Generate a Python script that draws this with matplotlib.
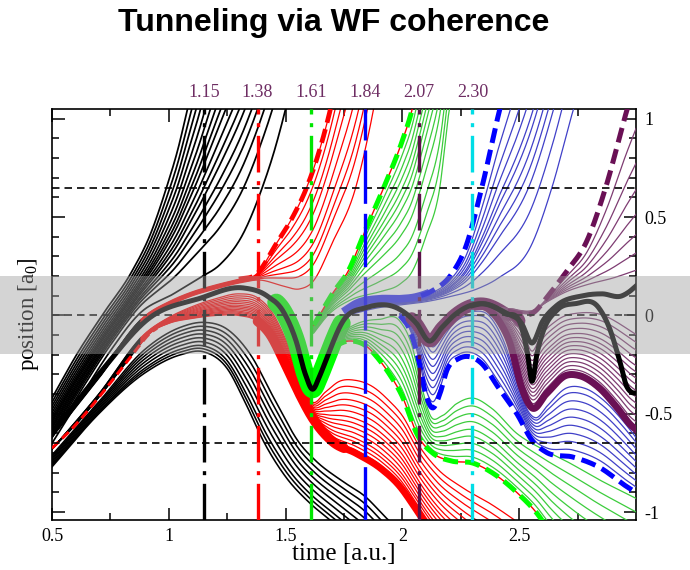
import numpy as np
import matplotlib
matplotlib.use("Agg")
import matplotlib.pyplot as plt
from matplotlib.patches import Rectangle

plt.rcParams['axes.unicode_minus'] = False
plt.rcParams['mathtext.fontset'] = 'custom'
plt.rcParams['mathtext.rm'] = 'Liberation Serif'
plt.rcParams['mathtext.it'] = 'Liberation Serif:italic'

# snapshot times marked by vertical lines
snap_times = [1.15, 1.38, 1.61, 1.84, 2.07, 2.30]
snap_colors = ['black', '#ff0000', '#00e600', '#0000ff', '#5a1048', '#00dde6']
snap_styles = ['dashdot', 'dashdot', 'dashdot', 'dashed', 'dashdot', 'dashdot']
barrier_lines = [0.65, 0.0, -0.65]

# thick central trajectories (time, position)
core_a = [(0.5, -0.60), (0.7, -0.30), (0.92, -0.01), (1.13, 0.086), (1.32, 0.14), (1.42, 0.10),
          (1.49, 0.02), (1.545, -0.13), (1.585, -0.30), (1.615, -0.375), (1.645, -0.31),
          (1.675, -0.22), (1.745, -0.03), (1.845, 0.04), (1.99, 0.03), (2.06, -0.04),
          (2.115, -0.13), (2.17, -0.06), (2.22, 0.0), (2.34, 0.06), (2.44, 0.01), (2.51, -0.06),
          (2.535, -0.19), (2.555, -0.335), (2.575, -0.2), (2.60, -0.09), (2.66, 0.025),
          (2.74, 0.06), (2.84, 0.04), (2.885, -0.06), (2.93, -0.23), (2.96, -0.36),
          (2.98, -0.39), (3.0, -0.395)]
core_b = [(2.30, 0.05), (2.34, 0.06), (2.44, 0.015), (2.51, -0.04), (2.555, -0.14), (2.60, -0.03),
          (2.66, 0.05), (2.77, 0.10), (2.855, 0.11), (2.94, 0.10), (2.97, 0.12), (3.0, 0.15)]

# black group: escaping edges, lower edges
black_out_first = [(0.5, -0.42), (0.61, -0.19), (0.72, 0.01), (0.84, 0.22), (0.92, 0.41), (0.99, 0.65),
                   (1.04, 0.85), (1.08, 1.05), (1.12, 1.25), (1.2, 1.7), (1.6, 3.4)]
black_out_last = [(0.5, -0.65), (0.62, -0.42), (0.75, -0.18), (0.875, 0.01), (1.02, 0.11), (1.13, 0.19),
                  (1.22, 0.26), (1.32, 0.42), (1.40, 0.65), (1.45, 0.83), (1.50, 1.05), (1.54, 1.25),
                  (1.6, 1.6)]
black_out_times = [0.99, 1.005, 1.02, 1.035, 1.05, 1.065, 1.08, 1.095, 1.11, 1.13, 1.15, 1.17,
                   1.20, 1.23, 1.27, 1.32, 1.40]
black_low_top = [(0.5, -0.71), (0.7, -0.44), (0.9, -0.17), (1.05, -0.06), (1.15, -0.035), (1.25, -0.07),
                 (1.35, -0.2), (1.45, -0.42), (1.56, -0.65), (1.63, -0.74), (1.74, -0.84),
                 (1.84, -0.92), (1.94, -1.04), (2.0, -1.1)]
black_low_bot = [(0.5, -0.77), (0.7, -0.50), (0.9, -0.29), (1.05, -0.2), (1.15, -0.185), (1.25, -0.27),
                 (1.33, -0.45), (1.41, -0.65), (1.5, -0.82), (1.6, -0.95), (1.69, -1.04),
                 (1.75, -1.1), (2.0, -1.4)]
black_low_vals = [-0.035, -0.055, -0.075, -0.095, -0.115, -0.135, -0.155, -0.17, -0.185]  # at t=1.15

# red group
red_out_first = [(0.5, -0.60), (0.7, -0.30), (0.9, 0.0), (1.0, 0.07), (1.1, 0.12), (1.2, 0.155),
                 (1.3, 0.185), (1.375, 0.21), (1.46, 0.365), (1.53, 0.5), (1.59, 0.65),
                 (1.645, 0.84), (1.69, 1.04), (1.72, 1.2), (1.9, 2.2)]
red_out_last = [(0.5, -0.62), (0.7, -0.32), (0.9, -0.01), (1.0, 0.05), (1.1, 0.1), (1.2, 0.135),
                (1.3, 0.165), (1.39, 0.18), (1.49, 0.15), (1.56, 0.135), (1.615, 0.17), (1.70, 0.37),
                (1.80, 0.65), (1.875, 1.04), (1.9, 1.2)]
red_out_times = [1.615, 1.64, 1.66, 1.685, 1.71, 1.735, 1.76]
red_low_top = [(0.5, -0.68), (0.7, -0.40), (0.9, -0.09), (1.0, -0.01), (1.1, 0.045), (1.2, 0.085),
               (1.3, 0.11), (1.38, 0.09), (1.44, 0.02), (1.5, -0.12), (1.56, -0.30), (1.615, -0.44),
               (1.67, -0.39), (1.73, -0.335), (1.80, -0.33), (1.87, -0.36), (1.94, -0.43),
               (2.0, -0.51), (2.07, -0.66), (2.15, -0.78), (2.25, -0.87), (2.38, -0.96),
               (2.48, -1.04), (2.55, -1.1)]
red_low_edge = [(0.5, -0.675), (0.59, -0.57), (0.735, -0.365), (0.85, -0.19), (0.92, -0.09), (1.0, -0.04),
                (1.1, -0.015), (1.2, 0.0), (1.3, 0.0), (1.38, -0.03), (1.43, -0.09), (1.50, -0.25),
                (1.56, -0.40), (1.615, -0.52), (1.70, -0.64), (1.80, -0.70), (1.91, -0.78),
                (1.99, -0.87), (2.05, -0.97), (2.10, -1.06), (2.55, -1.6)]
red_low_vals = [-0.33, -0.365, -0.40, -0.435, -0.465, -0.495, -0.525, -0.55, -0.575, -0.60,
                -0.625, -0.645, -0.665, -0.685]  # at t=1.8

# green group
green_out_first = [(1.62, -0.05), (1.64, -0.01), (1.70, 0.11), (1.77, 0.23), (1.84, 0.43), (1.92, 0.65),
                   (2.0, 0.89), (2.04, 1.04), (2.07, 1.2), (2.3, 2.6)]
green_out_last = [(1.62, -0.09), (1.68, 0.0), (1.78, 0.08), (1.9, 0.12), (1.99, 0.16), (2.04, 0.22),
                  (2.10, 0.40), (2.16, 0.65), (2.20, 1.04), (2.23, 1.2), (2.3, 1.6)]
green_out_times = [1.94, 1.96, 1.98, 2.0, 2.02, 2.04, 2.06, 2.08, 2.11, 2.14]
green_low_top = [(1.70, -0.12), (1.76, -0.07), (1.82, -0.035), (1.9, -0.02), (1.99, -0.03), (2.04, -0.15),
                 (2.08, -0.35), (2.12, -0.51), (2.17, -0.51), (2.23, -0.45), (2.30, -0.42),
                 (2.38, -0.47), (2.49, -0.60), (2.60, -0.68), (2.70, -0.74), (2.85, -0.84), (3.0, -0.93)]
green_low_edge = [(1.70, -0.16), (1.77, -0.13), (1.85, -0.16), (1.89, -0.21), (1.94, -0.29), (1.995, -0.40),
                  (2.07, -0.62), (2.13, -0.70), (2.21, -0.74), (2.30, -0.75), (2.385, -0.80),
                  (2.49, -0.90), (2.585, -1.02), (2.62, -1.08), (3.0, -1.5)]
green_low_vals = [-0.46, -0.50, -0.54, -0.58, -0.615, -0.65, -0.685, -0.72]  # at t=2.30

# blue group
blue_out_first = [(1.76, 0.03), (1.80, 0.06), (1.9, 0.085), (1.99, 0.085), (2.06, 0.095), (2.13, 0.127),
                  (2.21, 0.21), (2.27, 0.345), (2.34, 0.65), (2.415, 1.04), (2.45, 1.2), (2.8, 3.0)]
blue_out_last = [(1.76, 0.0), (1.9, 0.04), (2.0, 0.055), (2.1, 0.07), (2.2, 0.095), (2.33, 0.14),
                 (2.41, 0.19), (2.555, 0.365), (2.64, 0.65), (2.73, 1.04), (2.77, 1.2), (2.8, 1.35)]
blue_out_times = [2.365, 2.385, 2.405, 2.43, 2.45, 2.48, 2.51, 2.54, 2.585]
blue_low_top = [(1.99, 0.01), (2.06, -0.05), (2.10, -0.12), (2.13, -0.16), (2.17, -0.10), (2.23, -0.01),
                (2.3, 0.02), (2.37, 0.0), (2.43, -0.12), (2.49, -0.33), (2.535, -0.48), (2.57, -0.52),
                (2.62, -0.46), (2.70, -0.37), (2.78, -0.37), (2.86, -0.43), (2.94, -0.53), (3.0, -0.62)]
blue_low_edge = [(1.99, 0.0), (2.03, -0.07), (2.07, -0.23), (2.10, -0.40), (2.13, -0.47), (2.16, -0.40),
                 (2.19, -0.28), (2.24, -0.22), (2.29, -0.21), (2.34, -0.245), (2.41, -0.365),
                 (2.49, -0.50), (2.555, -0.635), (2.615, -0.695), (2.73, -0.72), (2.84, -0.77),
                 (2.96, -0.87), (3.0, -0.9)]
blue_low_vals = [-0.40, -0.44, -0.48, -0.52, -0.56, -0.60, -0.64, -0.68]  # at t=2.70

# purple group
purple_out_first = [(2.30, 0.065), (2.40, 0.04), (2.48, 0.015), (2.555, 0.01), (2.63, 0.11), (2.70, 0.22),
                    (2.79, 0.38), (2.87, 0.65), (2.96, 1.04), (3.0, 1.2)]
purple_out_last = [(2.30, 0.065), (2.40, 0.045), (2.48, 0.03), (2.555, 0.025), (2.62, 0.07), (2.7, 0.12),
                   (2.8, 0.16), (2.9, 0.19), (3.0, 0.23)]
purple_out_vals = [0.92, 0.75, 0.62, 0.50, 0.40, 0.31]  # at t=2.99
purple_low_top = [(2.25, 0.04), (2.37, 0.04), (2.45, 0.01), (2.52, -0.05), (2.555, -0.13), (2.59, -0.05),
                  (2.66, 0.03), (2.76, 0.07), (2.86, 0.07), (2.94, 0.03), (3.0, -0.01)]
purple_low_edge = [(2.25, 0.03), (2.37, 0.03), (2.42, -0.04), (2.46, -0.14), (2.51, -0.365), (2.555, -0.47),
                   (2.615, -0.40), (2.70, -0.305), (2.755, -0.305), (2.84, -0.365), (2.92, -0.47),
                   (2.98, -0.56), (3.0, -0.58)]
purple_low_vals = [0.0, -0.025, -0.05, -0.075, -0.10, -0.12, -0.14, -0.16, -0.18, -0.20,
                   -0.22, -0.24, -0.26, -0.28]  # at t=2.70

RED = '#ff0000'
GREEN, GREEN_THIN = '#00ff00', '#3ccc3c'
BLUE, BLUE_THIN = '#0000ff', '#4040c8'
PURPLE, PURPLE_THIN = '#6a1055', '#7e3c72'
SERIF = 'Liberation Serif'

T = np.linspace(0.5, 3.0, 1501)


def path(pts):
    # smooth cubic through the (time, position) points on the common time grid
    t, y = np.array(pts, dtype=float).T
    m = np.gradient(y, t)
    out = np.full(T.shape, np.nan)
    ins = (T >= t[0]) & (T <= t[-1])
    i = np.clip(np.searchsorted(t, T[ins], side='right') - 1, 0, len(t) - 2)
    h = t[i + 1] - t[i]
    s = (T[ins] - t[i]) / h
    out[ins] = ((2 * s**3 - 3 * s**2 + 1) * y[i] + (s**3 - 2 * s**2 + s) * h * m[i]
                + (-2 * s**3 + 3 * s**2) * y[i + 1] + (s**3 - s**2) * h * m[i + 1])
    return out


def fan(edge1, edge2, t_ref, y_ref):
    # trajectories between two edge trajectories, each one through (t_ref, y_ref)
    a, b = path(edge1), path(edge2)
    lines = []
    for tr, yr in zip(t_ref, y_ref):
        k = np.argmin(np.abs(T - tr))
        w = (yr - a[k]) / (b[k] - a[k])
        lines.append(a + w * (b - a))
    return lines


def part(y, t0, t1):
    return np.where((T >= t0) & (T <= t1), y, np.nan)


fig = plt.figure(figsize=(6.9, 5.7), dpi=100)
ax = fig.add_axes([52 / 690, 1 - 520 / 570, 584 / 690, 411 / 570])

# red group (black while still inside the initial packet)
red_lines = fan(red_out_first, red_out_last, red_out_times, [0.65] * len(red_out_times))
red_lines += [path(red_out_last)]
red_lines += fan(red_low_top, red_low_edge, [1.8] * len(red_low_vals), red_low_vals)
red_lines += [path(red_out_first)]
for y in red_lines:
    ax.plot(T, part(y, 0.5, 0.88), color='black', lw=1.0, zorder=2)
    ax.plot(T, part(y, 0.88, 3.0), color=RED, lw=0.9, zorder=2)
rl = path(red_low_edge)
ax.plot(T, part(rl, 0.88, 1.40), color=RED, lw=0.9, zorder=2)
ax.plot(T, part(rl, 1.38, 1.75), color=RED, lw=7.0, zorder=2.5, solid_capstyle='round')
ax.plot(T, part(rl, 1.70, 3.0), color=RED, lw=5.0, zorder=2.5, solid_capstyle='butt')
ax.plot(T, part(rl, 0.5, 0.95), color=RED, lw=2.2, ls=(0, (3, 1.6)), zorder=3.5)
ax.plot(T, part(path(red_out_first), 1.3, 3.0), color=RED, lw=3.4, ls=(0, (3, 1.4)), zorder=3.5)

# black group
for y in fan(black_out_first, black_out_last, black_out_times, [0.65] * len(black_out_times)):
    ax.plot(T, y, color='black', lw=1.25, zorder=3)
for y in fan(black_low_top, black_low_bot, [1.15] * len(black_low_vals), black_low_vals):
    ax.plot(T, y, color='black', lw=1.15, zorder=3)

A = path(core_a)
B = path(core_b)

# green group
ax.plot(T, part(A, 1.46, 1.74), color=GREEN, lw=13, zorder=3.8, solid_capstyle='round')
for y in fan(green_out_first, green_out_last, green_out_times, [0.65] * len(green_out_times)):
    ax.plot(T, y, color=GREEN_THIN, lw=0.9, zorder=4)
ax.plot(T, path(green_out_last), color=GREEN_THIN, lw=0.9, zorder=4)
for y in fan(green_low_top, green_low_edge, [2.30] * len(green_low_vals), green_low_vals):
    ax.plot(T, y, color=GREEN_THIN, lw=0.9, zorder=4)
ax.plot(T, path(green_low_top), color=GREEN_THIN, lw=0.9, zorder=4)
for g in (green_out_first, green_low_edge):
    ax.plot(T, path(g), color=RED, lw=1.0, zorder=4.1)
    ax.plot(T, path(g), color=GREEN, lw=3.6, ls=(0, (3, 1.4)), zorder=4.2)

# blue group
for y in fan(blue_out_first, blue_out_last, blue_out_times, [0.65] * len(blue_out_times)):
    ax.plot(T, y, color=BLUE_THIN, lw=0.9, zorder=5)
ax.plot(T, path(blue_out_last), color=BLUE_THIN, lw=0.9, zorder=5)
for y in fan(blue_low_top, blue_low_edge, [2.70] * len(blue_low_vals), blue_low_vals):
    ax.plot(T, y, color=BLUE_THIN, lw=0.9, zorder=5)
ax.plot(T, path(blue_low_top), color=BLUE_THIN, lw=0.9, zorder=5)
be = path(blue_out_first)
ax.plot(T, part(be, 1.76, 2.10), color='#3030f0', lw=5.5, zorder=5.2)
ax.plot(T, part(be, 2.08, 3.0), color=BLUE, lw=3.6, ls=(0, (3, 1.4)), zorder=5.2)
ax.plot(T, path(blue_low_edge), color=BLUE, lw=3.6, ls=(0, (3, 1.4)), zorder=5.2)

# purple group
ax.plot(T, part(A, 2.04, 2.50), color=PURPLE, lw=9, zorder=5.8, solid_capstyle='round')
for y in fan(purple_out_first, purple_out_last, [2.99] * len(purple_out_vals), purple_out_vals):
    ax.plot(T, y, color=PURPLE_THIN, lw=0.9, zorder=6)
ax.plot(T, path(purple_out_last), color=PURPLE_THIN, lw=0.9, zorder=6)
for y in fan(purple_low_top, purple_low_edge, [2.70] * len(purple_low_vals), purple_low_vals):
    ax.plot(T, y, color=PURPLE_THIN, lw=0.9, zorder=6)
ax.plot(T, path(purple_low_edge), color=PURPLE, lw=5.0, zorder=6.1)
ax.plot(T, part(path(purple_out_first), 2.45, 3.0), color=PURPLE, lw=3.6, ls=(0, (3, 1.4)), zorder=6.1)

# barriers and snapshot times
for yb in barrier_lines:
    ax.axhline(yb, color='black', lw=1.2, ls=(0, (4.5, 3)), zorder=6.5)
for t, c, s in zip(snap_times, snap_colors, snap_styles):
    ls = (0, (16, 3)) if s == 'dashed' else (0, (11, 2.6, 1.2, 2.6))
    ax.axvline(t, color=c, lw=2.4, ls=ls, zorder=6.6)
    ax.text(t, 1.03, '%.2f' % t, transform=ax.get_xaxis_transform(), ha='center', va='baseline',
            fontsize=13, family=SERIF, color='#6e2d63')

ax.plot(T, A, color='black', lw=3.6, zorder=7)
ax.plot(T, B, color='black', lw=3.6, zorder=7)

ax.set_xlim(0.5, 3.0)
ax.set_ylim(-1.04, 1.05)
ax.set_xticks([0.5, 1, 1.5, 2, 2.5])
ax.set_xticklabels(['0.5', '1', '1.5', '2', '2.5'])
ax.set_xticks(np.arange(0.75, 3.0, 0.5), minor=True)
ax.set_yticks([-1, -0.5, 0, 0.5, 1])
ax.set_yticklabels(['-1', '-0.5', '0', '0.5', '1'])
ax.set_yticks(np.arange(-1.0, 1.05, 0.1), minor=True)
ax.tick_params(which='both', direction='in', top=True, right=True, left=True, bottom=True,
               labelleft=False, labelright=True, width=1.1)
ax.tick_params(which='major', length=9, pad=6)
ax.tick_params(which='minor', length=5)
for lab in ax.get_xticklabels() + ax.get_yticklabels():
    lab.set_fontfamily(SERIF)
    lab.set_fontsize(13)
for sp in ax.spines.values():
    sp.set_linewidth(1.2)

ax.text(0.5, -0.083, 'time [a.u.]', transform=ax.transAxes, ha='center', va='center',
        fontsize=18, family=SERIF)
ax.text(-0.041, 0.5, r'position [a$_\mathrm{0}$]', transform=ax.transAxes, rotation=90,
        ha='center', va='center', fontsize=16.5, family=SERIF)

fig.text(334 / 690, 1 - 23 / 570, 'Tunneling via WF coherence', ha='center', va='center',
         fontsize=23, fontweight='bold', family='Liberation Sans')

# translucent grey strip across the whole figure
fig.add_artist(Rectangle((0, 1 - 354 / 570), 1, 78 / 570, transform=fig.transFigure,
                         facecolor='#9f9f9f', alpha=0.44, edgecolor='none', zorder=20))

fig.savefig('out.png', dpi=100)
